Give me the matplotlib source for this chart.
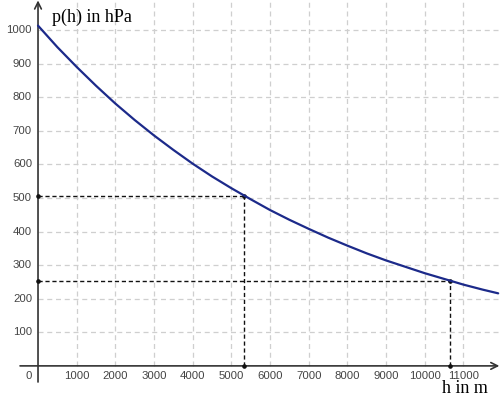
import matplotlib
matplotlib.use("Agg")
import matplotlib.pyplot as plt

# Data
heights = [0, 500, 1000, 1500, 2000, 2500, 3000, 3500, 4000, 4500, 5000, 5500,
           6000, 6500, 7000, 7500, 8000, 8500, 9000, 9500, 10000, 10500, 11000,
           11500, 11900]
pressure = [1013, 949, 890, 834, 781, 732, 686, 643, 602, 564, 529, 496,
            464, 435, 408, 382, 358, 335, 314, 295, 276, 259, 242, 227, 216]
half_h = [5330, 10660]
half_p = [506.5, 253.3]
x_ticks = [1000, 2000, 3000, 4000, 5000, 6000, 7000, 8000, 9000, 10000, 11000]
y_ticks = [100, 200, 300, 400, 500, 600, 700, 800, 900, 1000]

fig = plt.figure(figsize=(5.0, 3.98), dpi=100)
ax = fig.add_axes([0, 0, 1, 1])
xmin, xmax = -983, 11947
ymin, ymax = -95.6, 1089.3
ax.set_xlim(xmin, xmax)
ax.set_ylim(ymin, ymax)
ax.axis("off")

grid_kw = dict(color="#cfcfcf", linestyle=(0, (4, 3)), linewidth=0.9, zorder=1)
ax.vlines(x_ticks, 0, ymax, **grid_kw)
ax.hlines(y_ticks, 0, xmax, **grid_kw)

# axes with arrows
ax.annotate("", xy=(11930, 0), xytext=(-465, 0),
            arrowprops=dict(arrowstyle="->", color="#333333", lw=1.2,
                            shrinkA=0, shrinkB=0, mutation_scale=12), zorder=3)
ax.annotate("", xy=(0, 1088), xytext=(0, -48),
            arrowprops=dict(arrowstyle="->", color="#333333", lw=1.2,
                            shrinkA=0, shrinkB=0, mutation_scale=12), zorder=3)

# dashed helper lines
for h, p in zip(half_h, half_p):
    ax.plot([0, h], [p, p], color="#111111", linestyle=(0, (3, 2)), lw=1.0, zorder=4)
    ax.plot([h, h], [0, p], color="#111111", linestyle=(0, (3, 2)), lw=1.0, zorder=4)
    ax.plot([0, h, h], [p, 0, p], "o", color="#111111", ms=2.3, zorder=5)

ax.plot(heights, pressure, color="#1c2a8a", lw=1.6, zorder=6, solid_capstyle="round")

tick_font = dict(family="Liberation Sans", fontsize=8.2, color="#444444")
for t in x_ticks:
    ax.text(t, -31, str(t), ha="center", va="center", **tick_font)
for t in y_ticks:
    ax.text(-155, t, str(t), ha="right", va="center", **tick_font)
ax.text(-230, -31, "0", ha="center", va="center", **tick_font)

ax.text(360, 1025, "p(h) in hPa", family="Liberation Serif", fontsize=13,
        ha="left", va="baseline", color="black")
ax.text(10447, -82, "h in m", family="Liberation Serif", fontsize=13,
        ha="left", va="baseline", color="black")

fig.savefig("out.png", dpi=100)
